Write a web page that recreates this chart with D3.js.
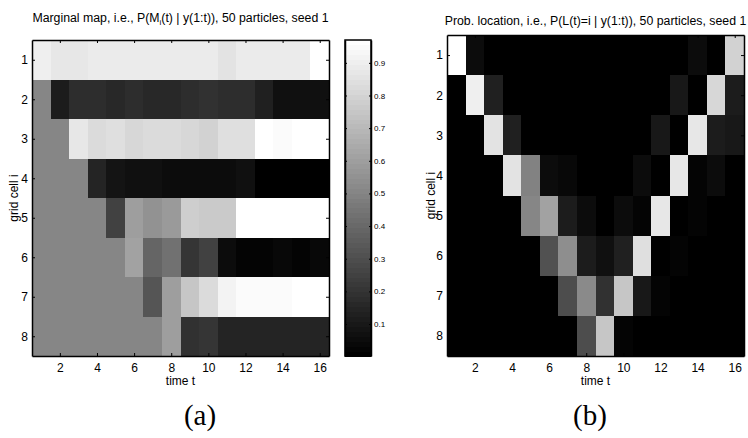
<!DOCTYPE html>
<html>
<head>
<meta charset="utf-8">
<script src="https://cdn.jsdelivr.net/npm/d3@7"></script>
<style>
  body { margin: 0; background: white; }
  text { font-family: "Liberation Sans", Arial, sans-serif; fill: black; }
</style>
</head>
<body>
<div class="canvas"></div>
<script>
// data
const timeSteps = [1, 2, 3, 4, 5, 6, 7, 8, 9, 10, 11, 12, 13, 14, 15, 16];
const gridCells = [1, 2, 3, 4, 5, 6, 7, 8];
const xTicks = [2, 4, 6, 8, 10, 12, 14, 16];
const colorbarTicks = [0.1, 0.2, 0.3, 0.4, 0.5, 0.6, 0.7, 0.8, 0.9];

// (a) P(M_i(t) | y(1:t)), one row per grid cell
const marginalMap = [
  [0.90, 0.87, 0.87, 0.88, 0.88, 0.88, 0.88, 0.88, 0.88, 0.88, 0.86, 0.88, 0.88, 0.89, 0.89, 0.97],
  [0.51, 0.12, 0.18, 0.18, 0.16, 0.17, 0.16, 0.16, 0.17, 0.19, 0.18, 0.18, 0.13, 0.07, 0.07, 0.07],
  [0.51, 0.51, 0.87, 0.82, 0.84, 0.81, 0.83, 0.83, 0.81, 0.80, 0.84, 0.84, 0.97, 0.94, 0.97, 0.97],
  [0.51, 0.51, 0.51, 0.15, 0.08, 0.07, 0.07, 0.06, 0.06, 0.06, 0.06, 0.07, 0.01, 0.01, 0.01, 0.01],
  [0.51, 0.51, 0.51, 0.51, 0.25, 0.60, 0.56, 0.58, 0.78, 0.77, 0.76, 0.97, 0.97, 0.97, 0.97, 0.97],
  [0.51, 0.51, 0.51, 0.51, 0.51, 0.62, 0.39, 0.44, 0.20, 0.25, 0.05, 0.02, 0.02, 0.04, 0.03, 0.04],
  [0.51, 0.51, 0.51, 0.51, 0.51, 0.51, 0.32, 0.60, 0.75, 0.83, 0.92, 0.94, 0.94, 0.94, 0.97, 0.97],
  [0.51, 0.51, 0.51, 0.51, 0.51, 0.51, 0.51, 0.60, 0.19, 0.20, 0.15, 0.15, 0.15, 0.15, 0.14, 0.14]
];

// (b) P(L(t)=i | y(1:t))
const locationProb = [
  [1.00, 0.06, 0, 0, 0, 0, 0, 0, 0, 0, 0, 0, 0, 0.05, 0, 0.82],
  [0, 0.93, 0.13, 0, 0, 0, 0, 0, 0, 0, 0, 0, 0.10, 0, 0.83, 0.12],
  [0, 0, 0.88, 0.13, 0, 0, 0, 0, 0, 0, 0, 0.10, 0, 0.90, 0.12, 0.10],
  [0, 0, 0, 0.88, 0.50, 0.05, 0.04, 0, 0, 0, 0.05, 0, 0.90, 0.03, 0.06, 0],
  [0, 0, 0, 0, 0.52, 0.63, 0.12, 0.06, 0, 0.05, 0.03, 0.90, 0, 0.03, 0, 0],
  [0, 0, 0, 0, 0, 0.32, 0.55, 0.11, 0.07, 0.14, 0.86, 0, 0.03, 0, 0, 0],
  [0, 0, 0, 0, 0, 0, 0.31, 0.54, 0.19, 0.78, 0.10, 0.03, 0, 0, 0, 0],
  [0, 0, 0, 0, 0, 0, 0, 0.31, 0.77, 0.02, 0, 0, 0, 0, 0, 0]
];

const svg = d3.select('.canvas')
  .append('svg')
    .attr('width', 748)
    .attr('height', 438);

// matlab style gray colormap, 64 levels
const grays = d3.range(64).map(i => d3.rgb(i / 63 * 255, i / 63 * 255, i / 63 * 255).toString());
const colorA = d3.scaleQuantize().domain([0.002, 0.97]).range(grays);
const colorB = d3.scaleQuantize().domain([0, 1]).range(grays);

function styleAxis(g, size) {
  g.selectAll("text")
    .style("font-family", "'Liberation Sans', Arial, sans-serif")
    .style("font-size", size);
  g.selectAll("line").attr("stroke", "black");
  g.select(".domain").attr("stroke", "black").attr("stroke-width", 1.5);
}

function drawPanel(p) {
  const x = d3.scaleLinear().domain([0.5, 16.5]).range(p.xRange);
  const y = d3.scaleLinear().domain([0.5, 8.5]).range(p.yRange);
  const g = svg.append("g");

  const cells = [];
  p.data.forEach((row, r) => row.forEach((v, c) => cells.push({t: timeSteps[c], i: gridCells[r], v: v})));

  g.selectAll("rect.cell")
    .data(cells)
    .enter()
    .append("rect")
      .attr("class", "cell")
      .attr("x", d => x(d.t - 0.5))
      .attr("y", d => y(d.i - 0.5))
      .attr("width", d => x(d.t + 0.5) - x(d.t - 0.5))
      .attr("height", d => y(d.i + 0.5) - y(d.i - 0.5))
      .attr("fill", d => p.color(d.v))
      .attr("shape-rendering", "crispEdges");

  const [x0, x1] = p.xRange, [y0, y1] = p.yRange;

  g.append("g")
    .attr("transform", `translate(0,${y1})`)
    .call(d3.axisBottom(x).tickValues(xTicks).tickSizeInner(-3).tickSizeOuter(0).tickPadding(7))
    .call(a => styleAxis(a, 12));
  g.append("g")
    .attr("transform", `translate(0,${y0})`)
    .call(d3.axisTop(x).tickValues(xTicks).tickSizeInner(-3).tickSizeOuter(0).tickFormat(""))
    .call(a => styleAxis(a, 12));
  g.append("g")
    .attr("transform", `translate(${x0},0)`)
    .call(d3.axisLeft(y).tickValues(gridCells).tickSizeInner(-3).tickSizeOuter(0).tickPadding(4))
    .call(a => styleAxis(a, 12));
  g.append("g")
    .attr("transform", `translate(${x1},0)`)
    .call(d3.axisRight(y).tickValues(gridCells).tickSizeInner(-3).tickSizeOuter(0).tickFormat(""))
    .call(a => styleAxis(a, 12));

  // title
  const title = g.append("text")
    .attr("x", (x0 + x1) / 2)
    .attr("y", p.titleY)
    .attr("text-anchor", "middle")
    .style("font-size", "12.3px");
  p.title.forEach(part => {
    const ts = title.append("tspan").text(part.text);
    if (part.sub) ts.style("font-size", "8px").attr("dy", 3);
    if (part.after) ts.attr("dy", -3);
  });

  // axis labels
  g.append("text")
    .attr("x", (x0 + x1) / 2)
    .attr("y", 385)
    .attr("text-anchor", "middle")
    .style("font-size", "12px")
    .text("time t");
  g.append("text")
    .attr("transform", `translate(${p.ylabelX},${(y0 + y1) / 2}) rotate(-90)`)
    .attr("text-anchor", "middle")
    .style("font-size", "12px")
    .text("grid cell i");

  // panel letter
  svg.append("text")
    .attr("x", p.letterX)
    .attr("y", 425)
    .attr("text-anchor", "middle")
    .style("font-family", "'Liberation Serif', 'Times New Roman', serif")
    .style("font-size", "29px")
    .text(p.letter);
}

drawPanel({
  xRange: [32, 329], yRange: [40, 356], data: marginalMap, color: colorA,
  titleY: 22, ylabelX: 18, letter: "(a)", letterX: 200,
  title: [{text: "Marginal map, i.e., P(M"}, {text: "i", sub: true}, {text: "(t) | y(1:t)), 50 particles, seed 1", after: true}]
});

drawPanel({
  xRange: [447, 744], yRange: [35, 356], data: locationProb, color: colorB,
  titleY: 25, ylabelX: 435, letter: "(b)", letterX: 590,
  title: [{text: "Prob. location, i.e., P(L(t)=i | y(1:t)), 50 particles, seed 1"}]
});

// colorbar for (a)
const cb = d3.scaleLinear().domain(colorA.domain()).range([356, 40]);
const cbX0 = 345, cbX1 = 371;
const lo = colorA.domain()[0], hi = colorA.domain()[1];
const bands = d3.range(64).map(i => ({a: lo + (hi - lo) * i / 64, b: lo + (hi - lo) * (i + 1) / 64, c: grays[i]}));
const cbg = svg.append("g");
cbg.selectAll("rect")
  .data(bands)
  .enter()
  .append("rect")
    .attr("x", cbX0)
    .attr("width", cbX1 - cbX0)
    .attr("y", d => cb(d.b))
    .attr("height", d => cb(d.a) - cb(d.b) + 0.5)
    .attr("fill", d => d.c)
    .attr("shape-rendering", "crispEdges");
cbg.append("g")
  .attr("transform", `translate(${cbX1},0)`)
  .call(d3.axisRight(cb).tickValues(colorbarTicks).tickFormat(d3.format(".1f")).tickSizeInner(-2).tickSizeOuter(0).tickPadding(3))
  .call(a => styleAxis(a, 8));
cbg.append("g")
  .attr("transform", `translate(${cbX0},0)`)
  .call(d3.axisLeft(cb).tickValues(colorbarTicks).tickSizeInner(-2).tickSizeOuter(0).tickFormat(""))
  .call(a => styleAxis(a, 8));
cbg.append("rect")
  .attr("x", cbX0).attr("y", 40)
  .attr("width", cbX1 - cbX0).attr("height", 316)
  .attr("fill", "none")
  .attr("stroke", "black")
  .attr("stroke-width", 1.5);
</script>
</body>
</html>
